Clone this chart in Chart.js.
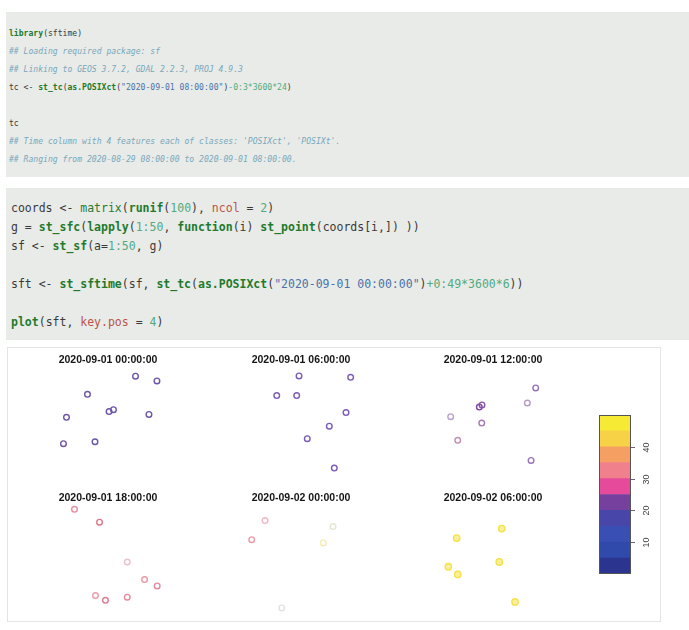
<!DOCTYPE html>
<html>
<head>
<meta charset="utf-8">
<script src="https://cdn.jsdelivr.net/npm/chart.js@4.4.1/dist/chart.umd.min.js"></script>
<style>
  html, body { margin:0; padding:0; background:#ffffff; }
  body { width:689px; height:630px; position:relative; overflow:hidden; }
  .code { position:absolute; left:6px; right:0; background:#e9ebe8; font-family:"DejaVu Sans Mono", monospace; white-space:pre; color:#3a3a3a; }
  #code1 { top:12px; height:165px; font-size:8.1px; line-height:18px; padding:11.5px 0 0 3px; box-sizing:border-box; }
  #code2 { top:188px; height:152px; font-size:11.5px; line-height:19px; padding:10.5px 0 0 5px; box-sizing:border-box; }
  .kw { color:#1f7a2c; font-weight:bold; }
  .fn { color:#2a7a35; }
  .st { color:#4a72a8; }
  .nu { color:#52aa7e; }
  .co { color:#78a8bc; font-style:italic; }
  .at { color:#b8544a; }
  #frame { position:absolute; left:7px; top:347px; width:652px; height:273px; border:1px solid #e4e4e4; background:#fff; }
  canvas { position:absolute; }
</style>
</head>
<body>
<div class="code" id="code1"><div><span class="kw">library</span>(sftime)</div><div><span class="co">## Loading required package: sf</span></div><div><span class="co">## Linking to GEOS 3.7.2, GDAL 2.2.3, PROJ 4.9.3</span></div><div>tc &lt;- <span class="kw">st_tc</span>(<span class="kw">as.POSIXct</span>(<span class="st">"2020-09-01 08:00:00"</span>)<span class="nu">-0:3*3600*24</span>)</div><div> </div><div>tc</div><div><span class="co">## Time column with 4 features each of classes: 'POSIXct', 'POSIXt'.</span></div><div><span class="co">## Ranging from 2020-08-29 08:00:00 to 2020-09-01 08:00:00.</span></div></div>
<div class="code" id="code2"><div>coords &lt;- <span class="fn">matrix</span>(<span class="kw">runif</span>(<span class="nu">100</span>), <span class="at">ncol</span> = <span class="nu">2</span>)</div><div>g = <span class="kw">st_sfc</span>(<span class="kw">lapply</span>(<span class="nu">1:50</span>, <span class="kw">function</span>(i) <span class="kw">st_point</span>(coords[i,]) ))</div><div>sf &lt;- <span class="kw">st_sf</span>(a=<span class="nu">1:50</span>, g)</div><div> </div><div>sft &lt;- <span class="kw">st_sftime</span>(sf, <span class="kw">st_tc</span>(<span class="kw">as.POSIXct</span>(<span class="st">"2020-09-01 00:00:00"</span>)<span class="nu">+0:49*3600*6</span>))</div><div> </div><div><span class="kw">plot</span>(sft, <span class="at">key.pos</span> = <span class="nu">4</span>)</div></div>
<div id="frame"></div>

<canvas id="p1" width="180" height="131"></canvas>
<canvas id="p2" width="180" height="131"></canvas>
<canvas id="p3" width="180" height="131"></canvas>
<canvas id="p4" width="180" height="131"></canvas>
<canvas id="p5" width="180" height="131"></canvas>
<canvas id="p6" width="180" height="131"></canvas>
<canvas id="key" width="70" height="175"></canvas>

<script>
// ---- data ----
const panelTitles = ["2020-09-01 00:00:00", "2020-09-01 06:00:00", "2020-09-01 12:00:00",
                     "2020-09-01 18:00:00", "2020-09-02 00:00:00", "2020-09-02 06:00:00"];

const panel1X = [0.737, 0.922, 0.323, 0.142, 0.509, 0.547, 0.853, 0.116, 0.388];
const panel1Y = [0.914, 0.871, 0.750, 0.543, 0.595, 0.612, 0.569, 0.306, 0.323];

const panel2X = [0.483, 0.928, 0.291, 0.463, 0.888, 0.744, 0.554, 0.787];
const panel2Y = [0.916, 0.903, 0.739, 0.739, 0.586, 0.463, 0.351, 0.086];

const panel3X = [0.868, 0.796, 0.382, 0.405, 0.135, 0.403, 0.196, 0.828];
const panel3Y = [0.808, 0.672, 0.635, 0.655, 0.549, 0.491, 0.336, 0.155];

const panel4X = [0.211, 0.427, 0.666, 0.815, 0.924, 0.392, 0.478, 0.666];
const panel4Y = [0.957, 0.842, 0.483, 0.325, 0.267, 0.181, 0.138, 0.166];

const panel5X = [0.190, 0.075, 0.692, 0.776, 0.334];
const panel5Y = [0.856, 0.684, 0.655, 0.802, 0.069];

const panel6X = [0.187, 0.115, 0.196, 0.575, 0.554, 0.690];
const panel6Y = [0.698, 0.440, 0.371, 0.784, 0.483, 0.123];

const keyBreaks = [0, 5, 10, 15, 20, 25, 30, 35, 40, 45, 50];
const keyTicks = [10, 20, 30, 40];

// ---- styles ----
const keyColors = ["#2b3590", "#2f4aab", "#3a4fb3", "#4846a8", "#76409f",
                   "#e64a9b", "#f0808c", "#f5a062", "#f8d246", "#f7ea34"];
const panelColors = [
  ["#6d55a8"],
  ["#7b5cb4"],
  ["#9474b4", "#b59ccb", "#7d45a2", "#8a55a8", "#b9a0cc", "#a579b2", "#c28db0", "#9878b8"],
  ["#e88ea0", "#e07488", "#f0c0c8", "#ec98a4", "#e6889a", "#ee9aa8", "#e07a8e", "#e68a9c"],
  ["#f0b8c4", "#e99aa8", "#f5eab0", "#e2e6d4", "#e2e2e2"],
  ["#f4e24a"]
];
const panelPos = [
  {left: 17.5, top: 352}, {left: 211, top: 352}, {left: 403, top: 352},
  {left: 17.5, top: 490}, {left: 211, top: 490}, {left: 403, top: 490}
];

const xs = [panel1X, panel2X, panel3X, panel4X, panel5X, panel6X];
const ys = [panel1Y, panel2Y, panel3Y, panel4Y, panel5Y, panel6Y];

for (let k = 0; k < 6; k++) {
  const cv = document.getElementById('p' + (k + 1));
  cv.style.left = panelPos[k].left + 'px';
  cv.style.top = panelPos[k].top + 'px';
  const pts = xs[k].map((x, i) => ({x: x, y: ys[k][i]}));
  const cols = xs[k].map((_, i) => panelColors[k][i % panelColors[k].length]);
  const filled = k === 5;
  new Chart(cv, {
    type: 'scatter',
    data: { datasets: [{
      data: pts,
      pointStyle: 'circle',
      pointRadius: filled ? 3.2 : 2.8,
      pointBorderWidth: 1.4,
      pointBorderColor: cols,
      pointBackgroundColor: filled ? cols.map(() => 'rgba(244,226,74,0.55)') : 'rgba(0,0,0,0)',
      clip: false
    }]},
    options: {
      responsive: false,
      animation: false,
      devicePixelRatio: 1,
      layout: { padding: { left: 32, right: 32, top: 2, bottom: 0 } },
      scales: {
        x: { type: 'linear', min: 0, max: 1, display: false },
        y: { type: 'linear', min: 0, max: 1, display: false }
      },
      plugins: {
        legend: { display: false },
        tooltip: { enabled: false },
        title: {
          display: true,
          text: panelTitles[k],
          color: '#151515',
          font: { family: '"Liberation Sans", Arial, sans-serif', size: 10.5, weight: 'bold' },
          padding: { top: 0, bottom: 0 },
          lineHeight: 1.2
        }
      }
    }
  });
}

// ---- colour key ----
const keyCanvas = document.getElementById('key');
keyCanvas.style.left = '590px';
keyCanvas.style.top = '405px';
const keyDatasets = keyColors.map((c, i) => ({
  data: [keyBreaks[i + 1] - keyBreaks[i]],
  backgroundColor: c,
  borderWidth: 0,
  barPercentage: 1,
  categoryPercentage: 1
}));
const keyAxisPlugin = {
  id: 'keyAxis',
  afterDatasetsDraw(chart) {
    const ctx = chart.ctx, a = chart.chartArea, ys = chart.scales.y;
    ctx.save();
    ctx.strokeStyle = '#555';
    ctx.lineWidth = 1;
    ctx.strokeRect(a.left + 0.5, a.top + 0.5, a.right - a.left - 1, a.bottom - a.top - 1);
    ctx.strokeStyle = '#666';
    ctx.fillStyle = '#444';
    ctx.font = '9px "Liberation Sans", Arial, sans-serif';
    ctx.textAlign = 'center';
    ctx.textBaseline = 'middle';
    keyTicks.forEach(v => {
      const y = Math.round(ys.getPixelForValue(v)) + 0.5;
      ctx.beginPath();
      ctx.moveTo(a.right, y);
      ctx.lineTo(a.right + 4, y);
      ctx.stroke();
      ctx.save();
      ctx.translate(a.right + 16, y);
      ctx.rotate(-Math.PI / 2);
      ctx.fillText(String(v), 0, 0);
      ctx.restore();
    });
    ctx.restore();
  }
};
new Chart(keyCanvas, {
  type: 'bar',
  data: { labels: [''], datasets: keyDatasets },
  options: {
    responsive: false,
    animation: false,
    devicePixelRatio: 1,
    layout: { padding: { left: 9, right: 29, top: 10, bottom: 6 } },
    scales: {
      x: { stacked: true, display: false },
      y: { stacked: true, min: 0, max: 50, display: false }
    },
    plugins: { legend: { display: false }, tooltip: { enabled: false } }
  },
  plugins: [keyAxisPlugin]
});
</script>
</body>
</html>
